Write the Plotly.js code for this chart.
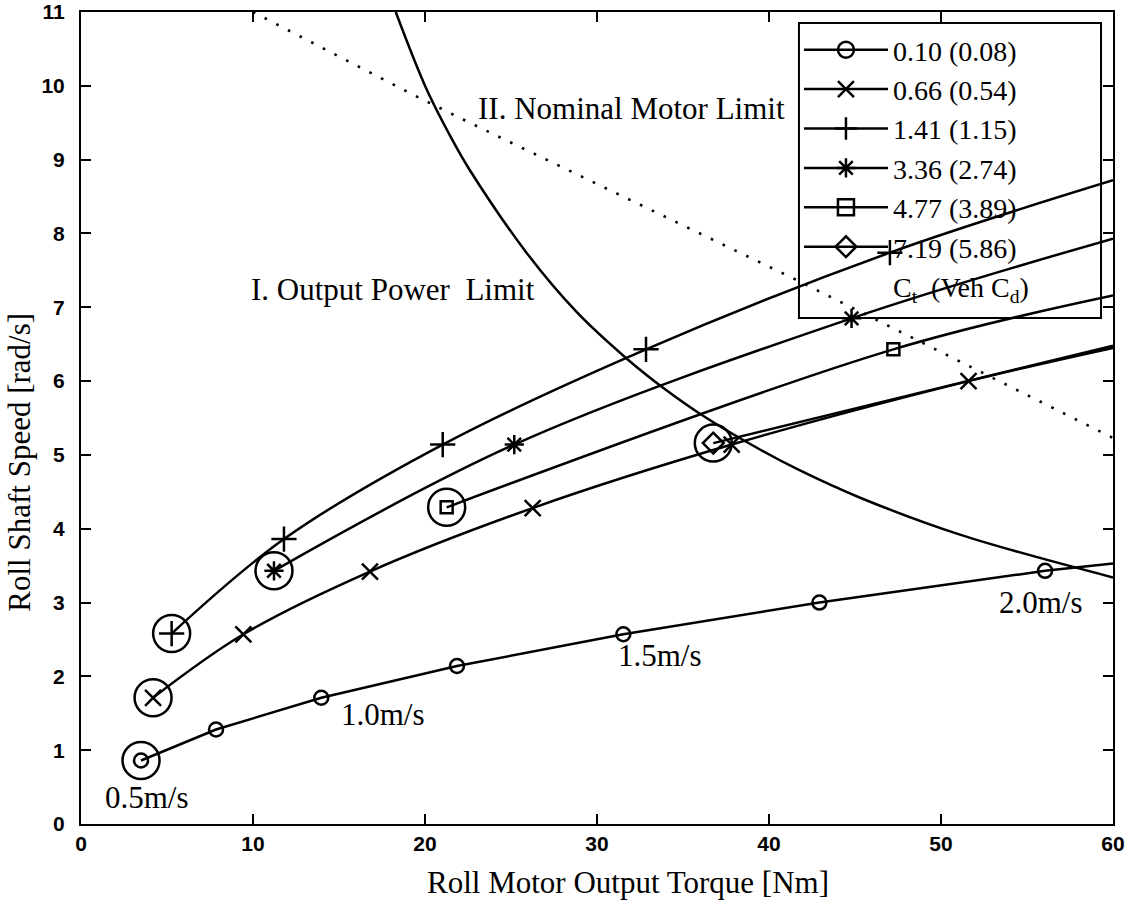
<!DOCTYPE html>
<html><head><meta charset="utf-8">
<script src="https://cdn.plot.ly/plotly-3.0.1.min.js"></script>
<style>html,body{margin:0;padding:0;background:#fff}#chart{width:1134px;height:908px}</style>
</head><body><div id="chart"></div>
<script>
// Series names (Ct (Veh Cd)) and symbols
const seriesNames = ['0.10 (0.08)', '0.66 (0.54)', '1.41 (1.15)', '3.36 (2.74)', '4.77 (3.89)', '7.19 (5.86)'];
const seriesSymbols = ['circle-open', 'x-thin-open', 'cross-thin-open', 'asterisk-open', 'square-open', 'diamond-open'];
const seriesSymbolSizes = [14, 16, 18, 16, 12, 16];
const seriesShapes = ['linear', 'spline', 'spline', 'spline', 'spline', 'spline'];

// Marker points (torque Nm, roll shaft speed rad/s)
const ct010X = [3.49, 7.85, 13.97, 21.86, 31.53, 42.93, 56.05];
const ct010Y = [0.86, 1.28, 1.71, 2.14, 2.57, 3.00, 3.43];
const ct066X = [4.19, 9.44, 16.80, 26.26, 37.83, 51.60];
const ct066Y = [1.71, 2.57, 3.42, 4.28, 5.14, 6.00];
const ct141X = [5.27, 11.80, 21.03, 32.85, 47.03];
const ct141Y = [2.58, 3.86, 5.14, 6.43, 7.74];
const ct336X = [11.22, 25.19, 44.80];
const ct336Y = [3.43, 5.14, 6.85];
const ct477X = [21.26, 47.23];
const ct477Y = [4.29, 6.43];
const ct719X = [36.76];
const ct719Y = [5.16];

// Where each curve leaves the plot at the right edge (x = 60)
const edgeX = 60;
const edgeY = [3.53, 6.45, 8.72, 7.93, 7.16, 6.48];

// I. Output power limit curve
const powerX = [18.3, 20.1, 21.7, 22.6, 25.9, 28.8, 31.7, 33.9, 36.3, 39.5, 41.8, 45.3, 51.1, 60.0];
const powerY = [11.0, 9.95, 9.22, 8.86, 7.74, 6.94, 6.31, 5.90, 5.51, 5.07, 4.79, 4.42, 3.92, 3.34];

// II. Nominal motor limit (dotted)
const motorX = [10.0, 19.3, 22.6, 41.6, 60.0];
const motorY = [11.0, 9.88, 9.50, 7.37, 5.23];

// Speed labels
const speedLabels = ['0.5m/s', '1.0m/s', '1.5m/s', '2.0m/s'];
const speedLabelX = [3.81, 17.56, 33.66, 55.81];
const speedLabelY = [0.36, 1.49, 2.28, 3.00];

const xTicks = [0, 10, 20, 30, 40, 50, 60];
const yTicks = [0, 1, 2, 3, 4, 5, 6, 7, 8, 9, 10, 11];

const allX = [ct010X, ct066X, ct141X, ct336X, ct477X, ct719X];
const allY = [ct010Y, ct066Y, ct141Y, ct336Y, ct477Y, ct719Y];

const serif = 'Liberation Serif, Times New Roman, serif';
const sans = 'Liberation Sans, Arial, sans-serif';
const LW = 2.5;

const traces = [];

// limit curves
traces.push({x: powerX, y: powerY, mode: 'lines', line: {color: 'black', width: LW, shape: 'spline', smoothing: 1}, showlegend: false, hoverinfo: 'skip'});
traces.push({x: motorX, y: motorY, mode: 'lines', line: {color: 'black', width: 2.6, dash: '2.6px,10.5px', shape: 'linear'}, showlegend: false, hoverinfo: 'skip'});

// series lines and markers
for (let i = 0; i < 6; i++) {
  traces.push({
    x: allX[i].concat([edgeX]), y: allY[i].concat([edgeY[i]]),
    mode: 'lines', line: {color: 'black', width: LW, shape: seriesShapes[i], smoothing: 1},
    showlegend: false, hoverinfo: 'skip'
  });
  traces.push({
    x: allX[i], y: allY[i], mode: 'markers',
    marker: {symbol: seriesSymbols[i], size: seriesSymbolSizes[i], color: 'black', line: {color: 'black', width: LW}},
    showlegend: false, hoverinfo: 'skip'
  });
}

// circled starting points
traces.push({
  x: allX.map(a => a[0]), y: allY.map(a => a[0]), mode: 'markers',
  marker: {symbol: 'circle-open', size: 37, color: 'black', line: {color: 'black', width: LW}},
  showlegend: false, hoverinfo: 'skip'
});

// legend entries
for (let i = 0; i < 6; i++) {
  traces.push({
    x: [null], y: [null], mode: 'lines+markers', name: seriesNames[i],
    line: {color: 'black', width: LW},
    marker: {symbol: seriesSymbols[i], size: 16, color: 'black', line: {color: 'black', width: LW}}
  });
}
traces.push({x: [null], y: [null], mode: 'none', name: 'C<sub>t</sub>\u00a0 (Veh C<sub>d</sub>)'});

const annotations = speedLabels.map((t, i) => ({
  x: speedLabelX[i], y: speedLabelY[i], xref: 'x', yref: 'y', text: t, showarrow: false,
  font: {family: serif, size: 31, color: 'black'}
}));
annotations.push({x: 18.14, y: 7.24, xref: 'x', yref: 'y', text: 'I. Output Power\u00a0 Limit', showarrow: false,
  font: {family: serif, size: 31, color: 'black'}});
annotations.push({x: 31.98, y: 9.69, xref: 'x', yref: 'y', text: 'II. Nominal Motor Limit', showarrow: false,
  font: {family: serif, size: 31, color: 'black'}});
// axis titles (placed as in the original, slightly off-centre)
annotations.push({x: 0.5296, y: -0.0724, xref: 'paper', yref: 'paper', xanchor: 'center', yanchor: 'middle',
  text: 'Roll Motor Output Torque [Nm]', showarrow: false, font: {family: serif, size: 31, color: 'black'}});
annotations.push({x: -0.0591, y: 0.445, xref: 'paper', yref: 'paper', xanchor: 'center', yanchor: 'middle',
  textangle: -90, text: 'Roll Shaft Speed [rad/s]', showarrow: false, font: {family: serif, size: 31, color: 'black'}});

const axisCommon = {
  showline: true, linecolor: 'black', linewidth: 2, mirror: 'ticks',
  ticks: 'inside', ticklen: 10, tickwidth: 2, tickcolor: 'black',
  showgrid: false, zeroline: false, ticklabeloverflow: 'allow',
  tickfont: {family: sans, size: 21, color: 'black', weight: 'bold'}
};

const layout = {
  width: 1134, height: 908,
  margin: {l: 81, r: 21, t: 12, b: 84},
  paper_bgcolor: 'white', plot_bgcolor: 'white',
  showlegend: true,
  legend: {
    x: 0.6957, y: 0.984, xanchor: 'left', yanchor: 'top',
    bgcolor: 'rgba(0,0,0,0)', borderwidth: 0,
    font: {family: serif, size: 28, color: 'black'},
    itemwidth: 84, tracegroupgap: 0
  },
  shapes: [{
    type: 'rect', xref: 'paper', yref: 'paper',
    x0: 0.6957, x1: 0.9884, y0: 0.6232, y1: 0.9865,
    line: {color: 'black', width: 2}, fillcolor: 'rgba(0,0,0,0)', layer: 'above'
  }],
  xaxis: Object.assign({}, axisCommon, {
    range: [0, 60], tickvals: xTicks, ticktext: xTicks.map(String)
  }),
  yaxis: Object.assign({}, axisCommon, {
    range: [0, 11], tickvals: yTicks, ticktext: yTicks.map(String), ticklabelstandoff: 10
  }),
  annotations: annotations
};

Plotly.newPlot('chart', traces, layout, {staticPlot: true});
</script>
</body></html>
